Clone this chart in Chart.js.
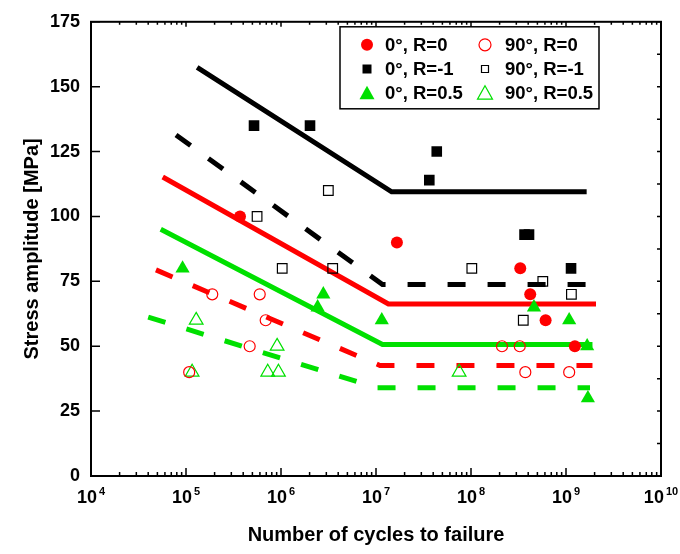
<!DOCTYPE html>
<html>
<head>
<meta charset="utf-8">
<title>S-N curves</title>
<script src="https://cdn.jsdelivr.net/npm/chart.js@4.4.1/dist/chart.umd.min.js"></script>
<style>
  html, body { margin: 0; padding: 0; background: #fff; }
</style>
</head>
<body>
<canvas id="chart-sn" width="680" height="554"></canvas>
<script>
// measured points: cycles to failure / stress amplitude (MPa)
var n0_R0 = [3.7e5, 1.66e7, 3.3e8, 4.2e8, 6.1e8, 1.24e9];
var s0_R0 = [100, 90, 80, 70, 60, 50];
var n90_R0 = [1.08e5, 1.89e5, 4.68e5, 5.97e5, 6.9e5, 2.12e8, 3.26e8, 3.73e8, 1.08e9];
var s90_R0 = [40, 70, 50, 70, 60, 50, 50, 40, 40];
var n0_Rm1 = [5.2e5, 2.02e6, 3.64e7, 4.36e7, 3.66e8, 4.08e8, 1.13e9];
var s0_Rm1 = [135, 135, 114, 125, 93, 93, 80];
var n90_Rm1 = [5.6e5, 1.03e6, 3.15e6, 3.5e6, 1.02e8, 3.55e8, 5.7e8, 1.14e9];
var s90_Rm1 = [100, 80, 110, 80, 80, 60, 75, 70];
var n0_R05 = [9.2e4, 2.43e6, 2.79e6, 1.15e7, 4.6e8, 1.08e9, 1.67e9, 1.7e9];
var s0_R05 = [80, 65, 70, 60, 65, 60, 50, 30];
var n90_R05 = [1.16e5, 1.28e5, 7.25e5, 9.1e5, 9.4e5, 7.5e7];
var s90_R05 = [40, 60, 40, 50, 40, 40];

// fitted S-N lines (start, knee, end)
var fitN_0_Rm1 = [1.31e5, 1.46e7, 1.65e9];
var fitS_0_Rm1 = [157.4, 109.5, 109.5];
var fitN_90_Rm1 = [7.85e4, 1.17e7, 1.97e9];
var fitS_90_Rm1 = [131.4, 73.8, 73.8];
var fitN_0_R0 = [5.69e4, 1.35e7, 2.07e9];
var fitS_0_R0 = [115.2, 66.3, 66.3];
var fitN_90_R0 = [4.83e4, 1.1e7, 1.9e9];
var fitS_90_R0 = [79.4, 42.6, 42.6];
var fitN_0_R05 = [5.42e4, 1.17e7, 1.9e9];
var fitS_0_R05 = [95.1, 50.7, 50.7];
var fitN_90_R05 = [4.0e4, 1.02e7, 1.79e9];
var fitS_90_R05 = [61.2, 34, 34];

var yTicks = [0, 25, 50, 75, 100, 125, 150, 175];
var xExponents = [4, 5, 6, 7, 8, 9, 10];

var RED = '#ff0000', BLACK = '#000000', GREEN = '#00e000';
var FONT = "'Liberation Sans', Arial, Helvetica, sans-serif";

function pts(xs, ys) {
  return xs.map(function (x, i) { return {x: x, y: ys[i]}; });
}

function marks(label, xs, ys, style, r, color, open) {
  return {
    label: label,
    data: pts(xs, ys),
    showLine: false,
    pointStyle: style,
    pointRadius: r,
    pointHoverRadius: r,
    backgroundColor: open ? 'rgba(0,0,0,0)' : color,
    borderColor: color,
    pointBorderWidth: open ? 1.2 : 0,
    open: open
  };
}

function fit(xs, ys, color, dashed) {
  return {
    label: '',
    data: pts(xs, ys),
    showLine: true,
    borderColor: color,
    borderWidth: 5,
    borderDash: dashed ? [18, 22] : [],
    pointRadius: 0,
    fill: false,
    isFit: true
  };
}

// hand-drawn pieces: frame, inward ticks, 10^n labels and the boxed legend
var decorPlugin = {
  id: 'decor',
  afterDraw: function (chart) {
    var ctx = chart.ctx, a = chart.chartArea;
    var xs = chart.scales.x, ys = chart.scales.y;
    ctx.save();
    ctx.strokeStyle = '#000';
    ctx.lineWidth = 2;
    ctx.strokeRect(a.left, a.top, a.right - a.left, a.bottom - a.top);

    ctx.lineWidth = 1.5;
    ctx.beginPath();
    yTicks.forEach(function (v) {
      var y = ys.getPixelForValue(v);
      ctx.moveTo(a.left, y); ctx.lineTo(a.left + 9, y);
    });
    for (var v = 0; v <= 175; v += 12.5) {
      var y = ys.getPixelForValue(v);
      ctx.moveTo(a.right, y); ctx.lineTo(a.right - 4, y);
    }
    xExponents.forEach(function (e) {
      var x = xs.getPixelForValue(Math.pow(10, e));
      ctx.moveTo(x, a.bottom); ctx.lineTo(x, a.bottom - 8);
      ctx.moveTo(x, a.top); ctx.lineTo(x, a.top + 5);
      if (e < 10) {
        for (var m = 2; m <= 9; m++) {
          var xm = xs.getPixelForValue(m * Math.pow(10, e));
          ctx.moveTo(xm, a.bottom); ctx.lineTo(xm, a.bottom - 4);
          ctx.moveTo(xm, a.top); ctx.lineTo(xm, a.top + 3);
        }
      }
    });
    ctx.stroke();

    // x tick labels with superscript exponent
    ctx.fillStyle = '#000';
    ctx.textBaseline = 'alphabetic';
    ctx.textAlign = 'left';
    xExponents.forEach(function (e) {
      var x = xs.getPixelForValue(Math.pow(10, e));
      ctx.font = 'bold 18px ' + FONT;
      var wb = ctx.measureText('10').width;
      ctx.font = 'bold 11px ' + FONT;
      var we = ctx.measureText(String(e)).width;
      var x0 = x - (wb + we + 2) / 2;
      ctx.font = 'bold 18px ' + FONT;
      ctx.fillText('10', x0, a.bottom + 27);
      ctx.font = 'bold 11px ' + FONT;
      ctx.fillText(String(e), x0 + wb + 2, a.bottom + 19);
    });

    // legend box
    var L = a.left + 249, T = a.top + 5, W = 259, H = 82;
    ctx.fillStyle = '#fff';
    ctx.fillRect(L, T, W, H);
    ctx.lineWidth = 1.5;
    ctx.strokeStyle = '#000';
    ctx.strokeRect(L, T, W, H);
    var items = chart.data.datasets.filter(function (d) { return !d.isFit; });
    items.forEach(function (d, i) {
      var col = i % 2, row = Math.floor(i / 2);
      var cx = L + (col ? 145 : 27), cy = T + 18 + row * 24.2;
      ctx.fillStyle = d.borderColor;
      ctx.strokeStyle = d.borderColor;
      ctx.lineWidth = 1.2;
      ctx.beginPath();
      if (d.pointStyle === 'circle') {
        ctx.arc(cx, cy, 6, 0, Math.PI * 2);
      } else if (d.pointStyle === 'rect') {
        var h = d.open ? 3.5 : 4.5;
        ctx.rect(cx - h, cy - h, 2 * h, 2 * h);
      } else {
        ctx.moveTo(cx, cy - 7.5);
        ctx.lineTo(cx + 7.5, cy + 6);
        ctx.lineTo(cx - 7.5, cy + 6);
        ctx.closePath();
      }
      if (d.open) ctx.stroke(); else ctx.fill();
      ctx.fillStyle = '#000';
      ctx.font = 'bold 18.5px ' + FONT;
      ctx.textBaseline = 'middle';
      ctx.fillText(d.label, L + (col ? 165 : 45), cy + 1);
    });
    ctx.restore();
  }
};

var ctx = document.getElementById('chart-sn');
var snChart = new Chart(ctx, {
  type: 'scatter',
  data: {
    datasets: [
      marks('0°, R=0', n0_R0, s0_R0, 'circle', 6, RED, false),
      marks('90°, R=0', n90_R0, s90_R0, 'circle', 5.5, RED, true),
      marks('0°, R=-1', n0_Rm1, s0_Rm1, 'rect', 7.5, BLACK, false),
      marks('90°, R=-1', n90_Rm1, s90_Rm1, 'rect', 6.8, BLACK, true),
      marks('0°, R=0.5', n0_R05, s0_R05, 'triangle', 8.2, GREEN, false),
      marks('90°, R=0.5', n90_R05, s90_R05, 'triangle', 7.9, GREEN, true),
      fit(fitN_0_Rm1, fitS_0_Rm1, BLACK, false),
      fit(fitN_90_Rm1, fitS_90_Rm1, BLACK, true),
      fit(fitN_0_R0, fitS_0_R0, RED, false),
      fit(fitN_90_R0, fitS_90_R0, RED, true),
      fit(fitN_0_R05, fitS_0_R05, GREEN, false),
      fit(fitN_90_R05, fitS_90_R05, GREEN, true)
    ]
  },
  options: {
    responsive: false,
    animation: false,
    layout: { padding: { top: 16, right: 19, left: 0, bottom: 0 } },
    plugins: {
      legend: { display: false },
      tooltip: { enabled: false }
    },
    scales: {
      x: {
        type: 'logarithmic',
        min: 1e4,
        max: 1e10,
        grid: { display: false, drawTicks: false },
        border: { display: false },
        ticks: { display: false },
        title: {
          display: true,
          text: 'Number of cycles to failure',
          color: '#000',
          font: { family: FONT, size: 20, weight: 'bold' },
          padding: { top: 0, bottom: 7 }
        },
        afterFit: function (s) { s.height = 78; }
      },
      y: {
        type: 'linear',
        min: 0,
        max: 175,
        grid: { display: false, drawTicks: false },
        border: { display: false },
        ticks: {
          stepSize: 25,
          padding: 11,
          color: '#000',
          font: { family: FONT, size: 18, weight: 'bold' }
        },
        title: {
          display: true,
          text: 'Stress amplitude [MPa]',
          color: '#000',
          font: { family: FONT, size: 20, weight: 'bold' },
          padding: { top: 20, bottom: 0 }
        },
        afterFit: function (s) { s.width = 91; }
      }
    }
  },
  plugins: [decorPlugin]
});
</script>
</body>
</html>
